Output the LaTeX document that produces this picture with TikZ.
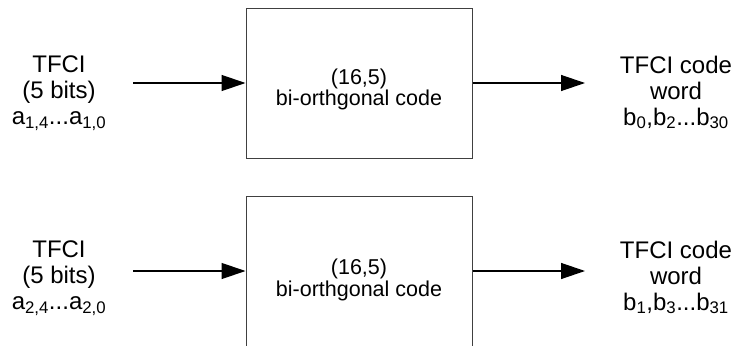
\documentclass[tikz,border=0pt]{standalone}
\usepackage{fontspec}
\setmainfont{Liberation Sans}
\usetikzlibrary{arrows.meta}
\tikzset{
  codebox/.style={draw=black!75, line width=1pt, rectangle, minimum width=226, inner sep=0pt,
    align=center, font=\fontsize{21.5}{21.5}\selectfont},
  lab/.style={align=center, inner sep=0pt, anchor=north, font=\fontsize{24}{26}\selectfont},
  flow/.style={line width=1.3pt, -{Triangle[length=24pt,width=16pt]}}
}
\begin{document}
\begin{tikzpicture}[x=1pt,y=-1pt]
\useasboundingbox (0,0) rectangle (738,345);
\clip (0,0) rectangle (738,345);
% top row
\node[codebox, minimum height=149] (c1) at (359,83.5)
  {\rule{0pt}{27pt}(16,5)\\bi-orthgonal code};
\node[lab] (l1) at (59,56) {TFCI\\(5 bits)\\a\textsubscript{1,4}...a\textsubscript{1,0}};
\node[lab] (r1) at (676,55.5) {TFCI code\\word\\b\textsubscript{0},b\textsubscript{2}...b\textsubscript{30}};
\coordinate (in1) at (133,83);
\coordinate (out1) at (585,83);
\draw[flow] (in1) -- (in1 -| c1.west);
\draw[flow] (out1 -| c1.east) -- (out1);
% bottom row
\node[codebox, minimum height=168] (c2) at (359,280) {(16,5)\\bi-orthgonal code};
\node[lab] (l2) at (59,241) {TFCI\\(5 bits)\\a\textsubscript{2,4}...a\textsubscript{2,0}};
\node[lab] (r2) at (676,240.5) {TFCI code\\word\\b\textsubscript{1},b\textsubscript{3}...b\textsubscript{31}};
\coordinate (in2) at (133,271);
\coordinate (out2) at (585,271);
\draw[flow] (in2) -- (in2 -| c2.west);
\draw[flow] (out2 -| c2.east) -- (out2);
\end{tikzpicture}
\end{document}
